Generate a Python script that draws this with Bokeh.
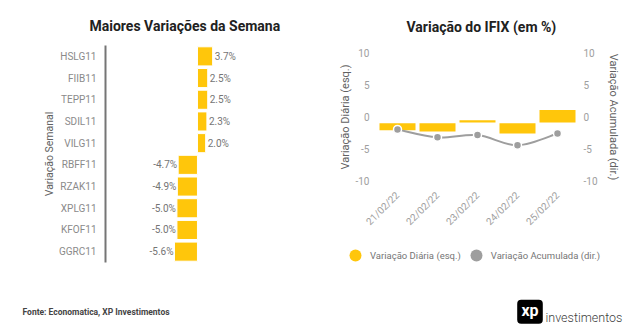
import math
from bokeh.plotting import figure
from bokeh.models import (Range1d, FactorRange, LinearAxis, FixedTicker, Legend,
                          LegendItem)
from bokeh.layouts import column, row
from bokeh.embed import file_html
from bokeh.resources import INLINE
from bokeh.core.properties import value

# ---- data: left chart ----
funds = ["HSLG11", "FIIB11", "TEPP11", "SDIL11", "VILG11",
         "RBFF11", "RZAK11", "XPLG11", "KFOF11", "GGRC11"]
weekly_var = [3.7, 2.5, 2.5, 2.3, 2.0, -4.7, -4.9, -5.0, -5.0, -5.6]

# ---- data: right chart ----
dates = ["21/02/22", "22/02/22", "23/02/22", "24/02/22", "25/02/22"]
daily_bar_top = [-1.0, -1.0, -0.5, -1.0, 1.1]
daily_bar_bottom = [-2.1, -2.3, -0.85, -2.6, -0.85]
cumulative = [-1.95, -3.2, -2.85, -4.45, -2.6]
y_ticks = [10, 5, 0, -5, -10]
y_tick_labels = ["10", "5", "0", "-5", "-10"]
legend_labels = ["Variação Diária (esq.)", "Variação Acumulada (dir.)"]

YELLOW = "#FFC60B"
GRAY_PT = "#9e9e9e"
FONT = "Roboto"


def style_title(p, text, offset):
    p.title.text = text
    p.title.align = "left"
    p.title.offset = offset
    p.title.text_font = FONT
    p.title.text_font_size = "14px"
    p.title.text_font_style = "bold"
    p.title.text_color = "#212121"
    p.title.standoff = 23


# ================= left chart =================
p1 = figure(width=320, height=280,
            y_range=FactorRange(factors=funds[::-1]),
            x_range=Range1d(-22.4, 25.1),
            output_backend="svg", toolbar_location=None,
            min_border_left=105, min_border_right=20,
            min_border_top=45, min_border_bottom=18,
            outline_line_color=None)
p1.hbar(y=funds, right=weekly_var, left=0, height=0.88,
        fill_color=YELLOW, line_color="white", line_width=1)

pos = [(f, v) for f, v in zip(funds, weekly_var) if v >= 0]
neg = [(f, v) for f, v in zip(funds, weekly_var) if v < 0]
p1.text(x=[v for f, v in pos], y=[f for f, v in pos],
        text=[f"{v:.1f}%" for f, v in pos], x_offset=2,
        text_align="left", text_baseline="middle",
        text_font=value(FONT), text_font_size="10px", text_color="#757575")
p1.text(x=[v for f, v in neg], y=[f for f, v in neg],
        text=[f"{v:.1f}%" for f, v in neg], x_offset=-1,
        text_align="right", text_baseline="middle",
        text_font=value(FONT), text_font_size="10px", text_color="#757575")

p1.xaxis.visible = False
p1.grid.visible = False
ya = p1.yaxis[0]
ya.axis_line_color = "#757575"
ya.axis_line_width = 2
ya.major_tick_line_color = None
ya.minor_tick_line_color = None
ya.major_tick_out = 0
ya.major_tick_in = 0
ya.major_label_standoff = 9
ya.major_label_text_font = FONT
ya.major_label_text_font_size = "10px"
ya.major_label_text_color = "#8a8a8a"
ya.axis_label = "Variação Semanal"
ya.axis_label_text_font = FONT
ya.axis_label_text_font_size = "10.5px"
ya.axis_label_text_font_style = "normal"
ya.axis_label_text_color = "#616161"
ya.axis_label_standoff = 0
style_title(p1, "Maiores Variações da Semana", -16)

# ================= right chart =================
xs = list(range(len(dates)))
p2 = figure(width=319, height=240,
            x_range=Range1d(-0.5, len(dates) - 0.5),
            y_range=Range1d(-11.1, 11.1),
            output_backend="svg", toolbar_location=None,
            min_border_left=57, min_border_right=62,
            min_border_top=46, min_border_bottom=53,
            outline_line_color=None)
p2.extra_y_ranges = {"acc": Range1d(-11.1, 11.1)}
p2.grid.visible = False

p2.vbar(x=xs, top=daily_bar_top, bottom=daily_bar_bottom, width=0.9,
        fill_color=YELLOW, line_color=None)

# smooth line through the cumulative points (Catmull-Rom -> bezier)
n = len(xs)
bx0, by0, bx1, by1, bcx0, bcy0, bcx1, bcy1 = [], [], [], [], [], [], [], []
k = 1.0 / 6.0
for i in range(n - 1):
    xa_, ya_ = xs[i], cumulative[i]
    xb, yb = xs[i + 1], cumulative[i + 1]
    xp, yp = (xs[i - 1], cumulative[i - 1]) if i > 0 else (xa_, ya_)
    xn, yn = (xs[i + 2], cumulative[i + 2]) if i + 2 < n else (xb, yb)
    bx0.append(xa_); by0.append(ya_); bx1.append(xb); by1.append(yb)
    bcx0.append(xa_ + (xb - xp) * k); bcy0.append(ya_ + (yb - yp) * k)
    bcx1.append(xb - (xn - xa_) * k); bcy1.append(yb - (yn - ya_) * k)
p2.bezier(x0=bx0, y0=by0, x1=bx1, y1=by1, cx0=bcx0, cy0=bcy0,
          cx1=bcx1, cy1=bcy1, line_color=GRAY_PT, line_width=2,
          y_range_name="acc")
p2.scatter(x=xs, y=cumulative, size=8, fill_color=GRAY_PT,
           line_color="white", line_width=1.5, y_range_name="acc")

# axes
la = p2.yaxis[0]
la.axis_label = "Variação Diária (esq.)"
ra = LinearAxis(y_range_name="acc", axis_label="Variação Acumulada (dir.)")
p2.add_layout(ra, "right")
xa = p2.xaxis[0]
xa.ticker = FixedTicker(ticks=xs)
xa.major_label_overrides = {i: d for i, d in zip(xs, dates)}
xa.major_label_orientation = math.pi / 4
for ax in (la, ra, xa):
    ax.axis_line_color = None
    ax.major_tick_line_color = None
    ax.minor_tick_line_color = None
    ax.major_tick_out = 0
    ax.major_tick_in = 0
    ax.major_label_text_font = FONT
    ax.major_label_text_font_size = "10px"
    ax.major_label_text_color = "#9e9e9e"
    ax.axis_label_text_font = FONT
    ax.axis_label_text_font_size = "11px"
    ax.axis_label_text_font_style = "normal"
    ax.axis_label_text_color = "#616161"
for ax in (la, ra):
    ax.ticker = FixedTicker(ticks=y_ticks)
    ax.major_label_overrides = {t: s for t, s in zip(y_ticks, y_tick_labels)}
la.major_label_standoff = 8
la.axis_label_standoff = 0
ra.major_label_standoff = 6
ra.axis_label_standoff = 6
xa.major_label_standoff = 6
style_title(p2, "Variação do IFIX (em %)", 29)

# ================= legend strip under the right chart =================
pl = figure(width=319, height=40, x_range=Range1d(0, 1), y_range=Range1d(0, 1),
            output_backend="svg", toolbar_location=None, min_border=0,
            outline_line_color=None)
pl.axis.visible = False
pl.grid.visible = False
nan = float("nan")
d1 = pl.scatter(x=[nan], y=[nan], size=12, fill_color=YELLOW, line_color=None)
d2 = pl.scatter(x=[nan], y=[nan], size=12, fill_color=GRAY_PT, line_color=None)
legend = Legend(items=[LegendItem(label=legend_labels[0], renderers=[d1]),
                       LegendItem(label=legend_labels[1], renderers=[d2])],
                orientation="horizontal", location=(20, 10),
                glyph_width=30, glyph_height=30, label_standoff=0, spacing=0,
                padding=0, margin=0, border_line_color=None,
                background_fill_alpha=0,
                label_text_font=FONT, label_text_font_size="9.5px",
                label_text_color="#757575")
pl.add_layout(legend)

# ================= footer =================
f = figure(width=639, height=52, x_range=Range1d(0, 639), y_range=Range1d(52, 0),
           output_backend="svg", toolbar_location=None, min_border=0,
           outline_line_color=None)
f.axis.visible = False
f.grid.visible = False
f.text(x=[22], y=[31.7], text=["Fonte: Economatica, XP Investimentos"],
       text_font=value(FONT), text_font_size="8.5px", text_font_style="bold",
       text_color="#444444", text_baseline="middle", text_align="left")
try:
    f.quad(left=[516.7], right=[542.3], top=[19.3], bottom=[43.3],
           fill_color="black", line_color=None, border_radius=4)
except Exception:
    f.quad(left=[516.7], right=[542.3], top=[19.3], bottom=[43.3],
           fill_color="black", line_color=None)
f.text(x=[529.5], y=[30], text=["xp"], text_font=value(FONT),
       text_font_size="16px", text_font_style="bold", text_color="white",
       text_align="center", text_baseline="middle")
f.text(x=[545], y=[37], text=["investimentos"], text_font=value("Roboto Light"),
       text_font_size="12.5px", text_color="#424242",
       text_align="left", text_baseline="alphabetic")

# keep each plot's own frame (no alignment across layouts)
for p in (p1, p2, pl, f):
    p.frame_align = False

layout = column(row(p1, column(p2, pl)), f)
open("out.html", "w").write(file_html(layout, INLINE))
